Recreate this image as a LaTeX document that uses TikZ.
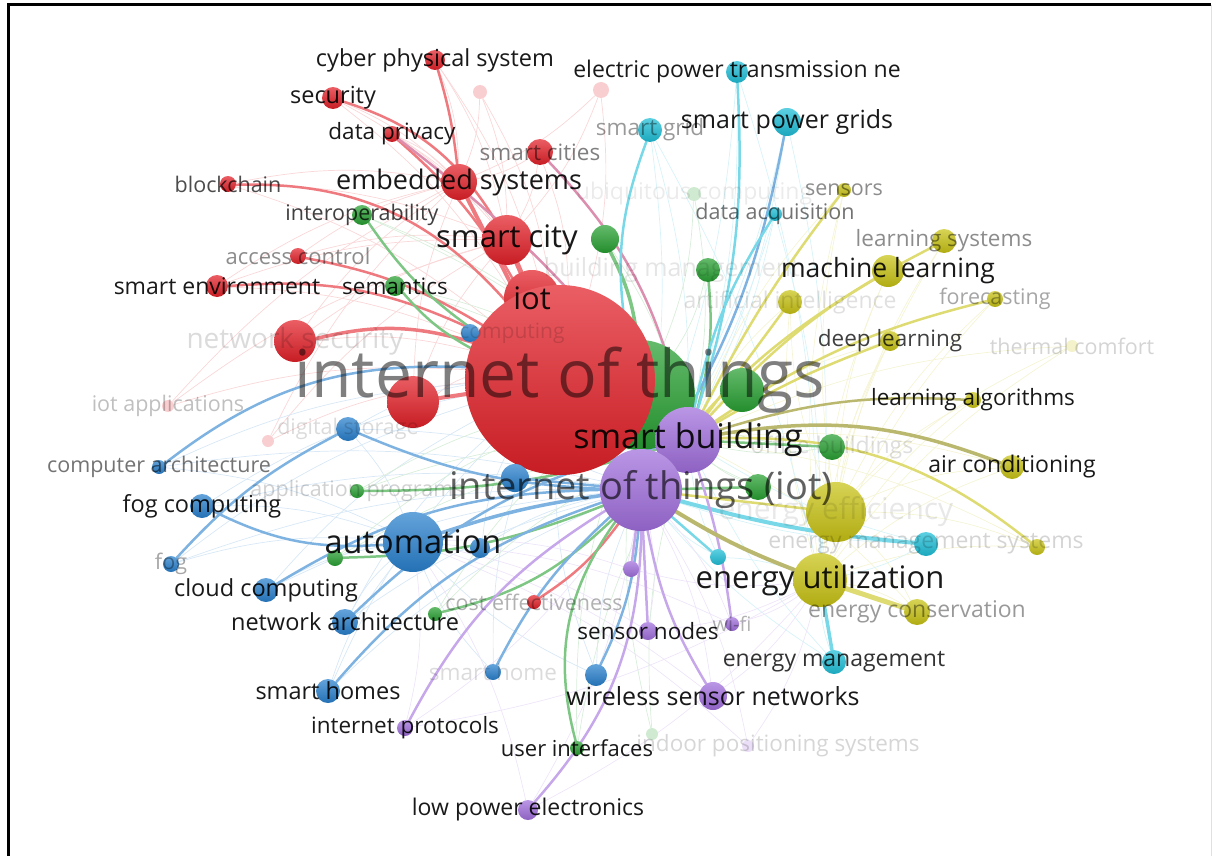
\documentclass[tikz,border=0pt]{standalone}
\usepackage{fontspec}
\setmainfont{Open Sans}
\pgfdeclarelayer{links}
\pgfsetlayers{links,main}
\definecolor{vred}{RGB}{226,32,40}
\definecolor{vgreen}{RGB}{40,160,50}
\definecolor{vblue}{RGB}{40,128,205}
\definecolor{vpurple}{RGB}{160,110,220}
\definecolor{vyellow}{RGB}{200,195,20}
\definecolor{vcyan}{RGB}{30,190,215}
\tikzset{
  kw/.style 2 args={circle, inner sep=0pt, minimum size={2*#2},
    top color=#1!72!white, bottom color=#1!88!black},
  ghost/.style 2 args={circle, inner sep=0pt, minimum size={2*#2}, fill=#1!22!white},
  ed/.style={line width=2.5pt, draw=#1!60!white, line cap=round},
  web/.style={line width=0.7pt, draw=#1!18!white},
  lbl/.style={inner sep=0pt, text=black, text opacity=0.9, font=\fontsize{#1}{#1}\selectfont},
  lbl/.default=23,
  tone/.style={text=black, text opacity=#1}
}
\begin{document}
\begin{tikzpicture}[x=1pt, y=-1pt]
\useasboundingbox (0,0) rectangle (1212,856);
\draw[line width=3pt] (8,858) |- (1211,5);
\draw[black!12] (1211,5) -- (1211,856);

% green hub behind the red one
\node[kw={vgreen}{55}] (gbig) at (640,395) {};
% red cluster
\node[kw={vred}{10}] (cps) at (435,60) {};
\node[ghost={vred}{7}] (fr1) at (480,92) {};
\node[ghost={vred}{8}] (fr2) at (601,90) {};
\node[kw={vred}{11}] (secu) at (333,98) {};
\node[kw={vred}{8}] (dpriv) at (392,134) {};
\node[kw={vred}{13}] (scities) at (540,152) {};
\node[kw={vred}{18}] (embs) at (459,182) {};
\node[kw={vred}{8}] (bchain) at (228,184) {};
\node[kw={vred}{25}] (scity) at (507,240) {};
\node[kw={vred}{8}] (acc) at (298,256) {};
\node[kw={vred}{11}] (senv) at (217,286) {};
\node[kw={vred}{28}] (iot) at (532,298) {};
\node[kw={vred}{21}] (nsec) at (295,341) {};
\node[ghost={vred}{6}] (iotapp) at (168,406) {};
\node[ghost={vred}{6}] (fr3) at (268,441) {};
\node[kw={vred}{26}] (redl) at (413,402) {};
\node[kw={vred}{95}] (iotbig) at (560,380) {};
\node[kw={vred}{7}] (cost) at (534,602) {};
% green cluster
\node[ghost={vgreen}{7}] (ubiq) at (694,194) {};
\node[kw={vgreen}{10}] (interop) at (362,215) {};
\node[kw={vgreen}{14}] (g1) at (605,239) {};
\node[kw={vgreen}{12}] (g2) at (708,270) {};
\node[kw={vgreen}{10}] (sem) at (395,286) {};
\node[kw={vgreen}{22}] (g3) at (742,390) {};
\node[kw={vgreen}{13}] (g4) at (832,447) {};
\node[kw={vgreen}{13}] (g5) at (758,487) {};
\node[kw={vgreen}{7}] (appprog) at (357,491) {};
\node[kw={vgreen}{8}] (gl) at (335,558) {};
\node[kw={vgreen}{7}] (gna) at (435,614) {};
\node[kw={vgreen}{7}] (uif) at (577,748) {};
\node[ghost={vgreen}{6}] (indoorg) at (652,734) {};
% blue cluster
\node[kw={vblue}{9}] (bcomp) at (470,333) {};
\node[kw={vblue}{12}] (dstor) at (348,429) {};
\node[kw={vblue}{7}] (comparch) at (159,467) {};
\node[kw={vblue}{14}] (bmid) at (515,478) {};
\node[kw={vblue}{12}] (fogc) at (202,506) {};
\node[kw={vblue}{30}] (auto) at (413,542) {};
\node[kw={vblue}{10}] (bright) at (480,548) {};
\node[kw={vblue}{8}] (fog) at (171,564) {};
\node[kw={vblue}{12}] (cloud) at (266,590) {};
\node[kw={vblue}{13}] (netarch) at (345,622) {};
\node[kw={vblue}{8}] (shome) at (493,672) {};
\node[kw={vblue}{11}] (bwsn) at (596,675) {};
\node[kw={vblue}{12}] (shomes) at (328,691) {};
% purple cluster
\node[kw={vpurple}{33}] (sbld) at (688,440) {};
\node[kw={vpurple}{41}] (iotp) at (641,490) {};
\node[kw={vpurple}{8}] (p1) at (631,569) {};
\node[kw={vpurple}{9}] (snodes) at (648,631) {};
\node[kw={vpurple}{7}] (wifi) at (732,624) {};
\node[kw={vpurple}{14}] (wsn) at (713,696) {};
\node[kw={vpurple}{8}] (iprot) at (405,728) {};
\node[ghost={vpurple}{6}] (indoor) at (748,746) {};
\node[kw={vpurple}{10}] (lpe) at (528,810) {};
% yellow cluster
\node[kw={vyellow}{7}] (sens) at (844,190) {};
\node[kw={vyellow}{12}] (lsys) at (944,241) {};
\node[kw={vyellow}{16}] (mlearn) at (888,271) {};
\node[kw={vyellow}{8}] (forec) at (995,299) {};
\node[kw={vyellow}{12}] (yai) at (790,302) {};
\node[kw={vyellow}{10}] (dlearn) at (890,341) {};
\node[ghost={vyellow}{6}] (thcomf) at (1072,346) {};
\node[kw={vyellow}{8}] (lalgo) at (973,400) {};
\node[kw={vyellow}{12}] (aircon) at (1012,467) {};
\node[kw={vyellow}{30}] (eeff) at (836,512) {};
\node[kw={vyellow}{8}] (emsy) at (1037,547) {};
\node[kw={vyellow}{27}] (eutil) at (820,580) {};
\node[kw={vyellow}{13}] (econs) at (917,612) {};
% cyan cluster
\node[kw={vcyan}{11}] (eptn) at (737,72) {};
\node[kw={vcyan}{12}] (sgrid) at (650,130) {};
\node[kw={vcyan}{14}] (spg) at (787,122) {};
\node[kw={vcyan}{7}] (dacq) at (775,214) {};
\node[kw={vcyan}{12}] (emsc) at (926,544) {};
\node[kw={vcyan}{8}] (cy1) at (718,557) {};
\node[kw={vcyan}{12}] (emgmt) at (834,662) {};

\begin{pgfonlayer}{links}
% faint web
\foreach \a in {secu,cps,dpriv,bchain,acc,senv,nsec,scities,fr1,fr2,iotapp,fr3,redl}
  \foreach \b in {iotbig,scity,embs}
    \draw[web=vred] (\a) to[bend left=10] (\b);
\foreach \a in {comparch,fogc,fog,cloud,netarch,shomes,shome,dstor,bwsn,bright}
  \foreach \b in {auto,iotp,iotbig}
    \draw[web=vblue] (\a) to[bend left=10] (\b);
\foreach \a in {sens,mlearn,lsys,forec,dlearn,lalgo,aircon,emsy,thcomf,econs,yai}
  \foreach \b in {eutil,eeff,sbld}
    \draw[web=vyellow] (\a) to[bend right=10] (\b);
\foreach \a in {eptn,spg,sgrid,dacq,emgmt,emsc,cy1}
  \foreach \b in {sbld,eutil,iotp}
    \draw[web=vcyan] (\a) to[bend left=8] (\b);
\foreach \a in {iprot,lpe,wsn,snodes,wifi,indoor,p1}
  \foreach \b in {iotp,auto,eutil}
    \draw[web=vpurple] (\a) to[bend right=10] (\b);
\foreach \a in {interop,sem,g1,g2,appprog,gl,gna,uif,ubiq,indoorg,g4,g5}
  \foreach \b in {gbig,sbld}
    \draw[web=vgreen] (\a) to[bend left=10] (\b);
% red links
\draw[ed=vred] (secu) to[bend left=20] (scity);
\draw[ed=vred] (cps) to[bend left=5] (embs);
\draw[ed=vred, line width=4pt] (embs) -- (iotbig);
\draw[ed=vred] (dpriv) to[bend left=10] (iotbig);
\draw[ed=vred] (bchain) to[bend left=25] (iotbig);
\draw[ed=vred] (senv) to[bend left=15] (iotbig);
\draw[ed=vred] (acc) to[bend left=10] (iotbig);
\draw[ed=vred, line width=3.5pt] (nsec) to[bend left=15] (iotbig);
\draw[ed=vred, line width=4pt] (redl) -- (iotbig);
\draw[ed=vred!55!vpurple] (scities) to[bend left=15] (sbld);
\draw[ed=vred!55!vpurple] (dpriv) to[bend left=8] (sbld);
\draw[ed=vred] (cost) to[bend right=10] (iotp);
\draw[ed=vred, line width=5pt] (scity) -- (iot);
% green links
\draw[ed=vgreen] (interop) to[bend right=10] (iotbig);
\draw[ed=vgreen] (sem) to[bend right=10] (iotbig);
\draw[ed=vgreen, line width=3.5pt] (g1) to[bend left=10] (gbig);
\draw[ed=vgreen] (g2) to[bend left=10] (sbld);
\draw[ed=vgreen] (gl) to[bend right=10] (iotp);
\draw[ed=vgreen] (appprog) to[bend right=8] (sbld);
\draw[ed=vgreen] (gna) to[bend right=15] (iotp);
\draw[ed=vgreen] (uif) to[bend left=25] (iotp);
\draw[ed=vgreen] (g4) -- (sbld);
\draw[ed=vgreen] (g5) -- (iotp);
% blue links
\draw[ed=vblue] (comparch) to[bend left=20] (iotbig);
\draw[ed=vblue] (fogc) to[bend right=15] (auto);
\draw[ed=vblue] (fog) to[bend left=10] (dstor);
\draw[ed=vblue] (cloud) to[bend left=15] (iotp);
\draw[ed=vblue] (netarch) to[bend left=15] (sbld);
\draw[ed=vblue] (shomes) to[bend left=15] (iotp);
\draw[ed=vblue] (shome) to[bend left=10] (iotp);
\draw[ed=vblue] (bwsn) to[bend right=10] (iotp);
\draw[ed=vblue] (dstor) to[bend right=10] (iotp);
\draw[ed=vblue, line width=3.5pt] (auto) to[bend left=5] (iotp);
\draw[ed=vblue] (bmid) -- (iotp);
% cyan links
\draw[ed=vcyan] (sgrid) to[bend right=15] (gbig);
\draw[ed=vcyan] (eptn) to[bend left=10] (sbld);
\draw[ed=vblue] (spg) to[bend left=10] (iotp);
\draw[ed=vcyan] (dacq) to[bend right=10] (sbld);
\draw[ed=vcyan, line width=3.5pt] (emgmt) -- (eutil);
\draw[ed=vcyan, line width=4pt] (emsc) to[bend left=5] (iotp);
\draw[ed=vcyan] (cy1) -- (iotp);
% purple links
\draw[ed=vpurple] (iprot) to[bend left=15] (iotp);
\draw[ed=vpurple] (lpe) to[bend right=20] (iotp);
\draw[ed=vpurple] (wsn) to[bend left=10] (iotp);
\draw[ed=vpurple] (snodes) -- (iotp);
\draw[ed=vpurple] (wifi) to[bend right=5] (sbld);
\draw[ed=vpurple] (p1) -- (iotp);
% yellow links
\draw[ed=vyellow] (sens) to[bend right=5] (sbld);
\draw[ed=vyellow] (mlearn) to[bend right=10] (iotp);
\draw[ed=vyellow] (lsys) to[bend right=10] (sbld);
\draw[ed=vyellow] (forec) to[bend right=10] (sbld);
\draw[ed=vyellow] (dlearn) to[bend right=5] (sbld);
\draw[ed=vyellow!70!black] (lalgo) to[bend right=10] (sbld);
\draw[ed=vyellow!70!black, line width=3.5pt] (aircon) to[bend right=15] (sbld);
\draw[ed=vyellow] (emsy) to[bend right=20] (sbld);
\draw[ed=vyellow, line width=5pt] (econs) -- (eutil);
\draw[ed=vyellow!70!black, line width=4pt] (eutil) to[bend left=5] (iotp);
\draw[ed=vyellow] (eeff) -- (iotp);
\draw[ed=vyellow] (yai) -- (sbld);
\end{pgfonlayer}

% labels
\node[lbl=23.5] (cps-l) at (cps) {cyber physical system};
\node[lbl=23.5] (secu-l) at (secu) {security};
\node[lbl=22.5] (dpriv-l) at (dpriv) {data privacy};
\node[lbl=22.5, tone=0.5] (scities-l) at (scities) {smart cities};
\node[lbl=27] (embs-l) at (embs) {embedded systems};
\node[lbl=21.5, tone=0.7] (bchain-l) at (bchain) {blockchain};
\node[lbl=31] (scity-l) at (scity) {smart city};
\node[lbl=22, tone=0.45] (acc-l) at (acc) {access control};
\node[lbl=23] (senv-l) at (senv) {smart environment};
\node[lbl=31] (iot-l) at (iot) {iot};
\node[lbl=28, tone=0.14] (nsec-l) at (nsec) {network security};
\node[lbl=21.5, tone=0.25] (iotapp-l) at (iotapp) {iot applications};
\node[lbl=21.5, tone=0.14] (dstor-l) at (dstor) {digital storage};
\node[lbl=21.5, tone=0.3] (cost-l) at (cost) {cost effectiveness};
\node[lbl=21.5, tone=0.75] (interop-l) at (interop) {interoperability};
\node[lbl=22.5] (sem-l) at (sem) {semantics};
\node[lbl=23, tone=0.08] (ubiq-l) at (ubiq) {ubiquitous computing};
\node[lbl=25, tone=0.1] (bman-l) at (672,270) {building management};
\node[lbl=23, tone=0.12] (yai-l) at (yai) {artificial intelligence};
\node[lbl=23, tone=0.13] (g4-l) at (g4) {office buildings};
\node[lbl=21.5, tone=0.18] (appprog-l) at (appprog) {application programs};
\node[lbl=22] (uif-l) at (uif) {user interfaces};
\node[lbl=22.5, tone=0.16] (indoor-l) at (778,746) {indoor positioning systems};
\node[lbl=21, tone=0.14] (bcomp-l) at (512,333) {computing};
\node[lbl=21.5, tone=0.55] (comparch-l) at (comparch) {computer architecture};
\node[lbl=23.5] (fogc-l) at (fogc) {fog computing};
\node[lbl=32.5] (auto-l) at (auto) {automation};
\node[lbl=21.5, tone=0.35] (fog-l) at (fog) {fog};
\node[lbl=23.5] (cloud-l) at (cloud) {cloud computing};
\node[lbl=23.5] (netarch-l) at (netarch) {network architecture};
\node[lbl=22.5, tone=0.14] (shome-l) at (shome) {smart home};
\node[lbl=23.5] (shomes-l) at (shomes) {smart homes};
\node[lbl=22.5] (iprot-l) at (iprot) {internet protocols};
\node[lbl=23] (lpe-l) at (lpe) {low power electronics};
\node[lbl=22.5] (snodes-l) at (snodes) {sensor nodes};
\node[lbl=20, tone=0.3] (wifi-l) at (wifi) {wi-fi};
\node[lbl=25] (wsn-l) at (wsn) {wireless sensor networks};
\node[lbl=21.5, tone=0.45] (sens-l) at (sens) {sensors};
\node[lbl=22.5, tone=0.45] (lsys-l) at (lsys) {learning systems};
\node[lbl=26.5] (mlearn-l) at (mlearn) {machine learning};
\node[lbl=21.5, tone=0.35] (forec-l) at (forec) {forecasting};
\node[lbl=22.5, tone=0.75] (dlearn-l) at (dlearn) {deep learning};
\node[lbl=21.5, tone=0.17] (thcomf-l) at (thcomf) {thermal comfort};
\node[lbl=22.5] (lalgo-l) at (lalgo) {learning algorithms};
\node[lbl=23] (aircon-l) at (aircon) {air conditioning};
\node[lbl=30, tone=0.09] (eeff-l) at (eeff) {energy efficiency};
\node[lbl=23, tone=0.17] (emsc-l) at (emsc) {energy management systems};
\node[lbl=23, tone=0.4] (econs-l) at (econs) {energy conservation};
\node[lbl=23, tone=0.8] (emgmt-l) at (emgmt) {energy management};
\node[lbl=23] (eptn-l) at (eptn) {electric power transmission ne};
\node[lbl=22.5, tone=0.4] (sgrid-l) at (sgrid) {smart grid};
\node[lbl=25] (spg-l) at (spg) {smart power grids};
\node[lbl=21.5, tone=0.55] (dacq-l) at (dacq) {data acquisition};
\node[lbl=66, tone=0.5] (iotbig-l) at (iotbig) {internet of things};
\node[lbl=38, tone=0.62] (iotp-l) at (iotp) {internet of things (iot)};
\node[lbl=34] (sbld-l) at (sbld) {smart building};
\node[lbl=31] (eutil-l) at (eutil) {energy utilization};
\end{tikzpicture}
\end{document}
